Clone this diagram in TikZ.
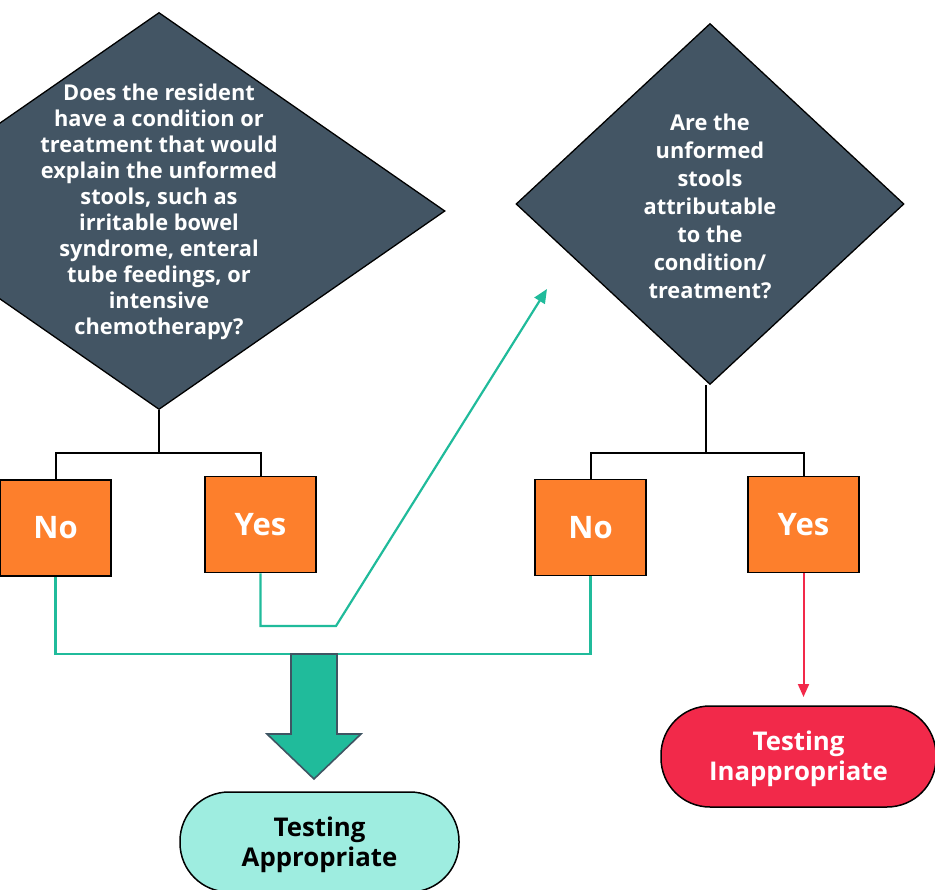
\documentclass[tikz,border=0pt]{standalone}
\usepackage{fontspec}
\setmainfont{Open Sans}
\usetikzlibrary{shapes.geometric,arrows.meta}
\definecolor{slate}{HTML}{435564}
\definecolor{orng}{HTML}{FD7F2C}
\definecolor{tealc}{HTML}{20BB9B}
\definecolor{redc}{HTML}{F2294A}
\definecolor{aqua}{HTML}{9EEDE0}
\definecolor{arrowedge}{HTML}{3F5563}
\begin{document}
\begin{tikzpicture}[x=1pt,y=-1pt,
  decision/.style={diamond, draw=black, line width=1.3pt, fill=slate, inner sep=0pt},
  qtext/.style={text=white, align=center, inner sep=0pt, font=\bfseries\fontsize{21.8}{26}\selectfont},
  answer/.style={rectangle, draw=black, line width=1.8pt, fill=orng, text=white,
    minimum width=111pt, minimum height=96pt, inner sep=0pt,
    font=\bfseries\fontsize{31}{36}\selectfont},
  terminal/.style={rectangle, rounded corners=49pt, draw=black, line width=1.5pt,
    minimum height=100pt, align=center, inner sep=0pt,
    font=\bfseries\fontsize{25.8}{30}\selectfont},
  bracket/.style={draw=black, line width=2pt},
  tealline/.style={draw=tealc, line width=2.2pt},
  redline/.style={draw=redc, line width=2pt},
  blockarrow/.style={fill=tealc, draw=arrowedge, line width=1.6pt, line join=miter}
]
\useasboundingbox (0,0) rectangle (935,890);
\clip (0,0) rectangle (935,890);

% decisions
\node[decision, minimum width=572pt, minimum height=397pt] (d1) at (159,211) {};
\node[qtext] (q1) at (159,212) {Does the resident\\have a condition or\\treatment that would\\explain the unformed\\stools, such as\\irritable bowel\\syndrome, enteral\\tube feedings, or\\intensive\\chemotherapy?};
\node[decision, minimum width=388pt, minimum height=361pt] (d2) at (710,204) {};
\node[qtext, font=\bfseries\fontsize{21.8}{28}\selectfont] (q2) at (710,206) {Are the\\unformed\\stools\\attributable\\to the\\condition/\\treatment?};

% answers
\node[answer] (n1) at (55.5,528) {No};
\node[answer] (y1) at (260.5,524.5) {Yes};
\node[answer] (n2) at (590.5,527.5) {No};
\node[answer] (y2) at (803.5,524.5) {Yes};

% terminals
\node[terminal, fill=aqua, text=black, minimum width=279pt] (ta) at (319.5,842) {\rule{0pt}{25pt}Testing\\Appropriate};
\node[terminal, fill=redc, text=white, minimum width=275pt, minimum height=101pt] (ti) at (798.5,756.5) {\rule{0pt}{25pt}Testing\\Inappropriate};

% brackets
\coordinate (b1) at (159,453);
\coordinate (b2) at (706,453);
\draw[bracket] (d1.south) -- (b1);
\draw[bracket] (n1.north) -- (n1.north |- b1) -- (y1.north |- b1) -- (y1.north);
\draw[bracket] (d2.south -| b2) -- (b2);
\draw[bracket] (n2.north) -- (n2.north |- b2) -- (y2.north |- b2) -- (y2.north);

% teal connectors
\coordinate (join) at (314,654);
\coordinate (kink) at (336,626);
\coordinate (tip) at (547,289);
\draw[tealline] (n1.south) |- (join) -| (n2.south);
\draw[tealline, -{Triangle[length=14pt,width=12pt]}] (y1.south) |- (kink) -- (tip);

% block arrow
\draw[blockarrow] (291,654) -- (337,654) -- (337,734) -- (361,734) -- (314,779) -- (267,734) -- (291,734) -- cycle;

% red connector
\coordinate (redtip) at (803.5,697);
\draw[redline, -{Triangle[length=13pt,width=11pt]}] (y2.south) -- (redtip);
\end{tikzpicture}
\end{document}
